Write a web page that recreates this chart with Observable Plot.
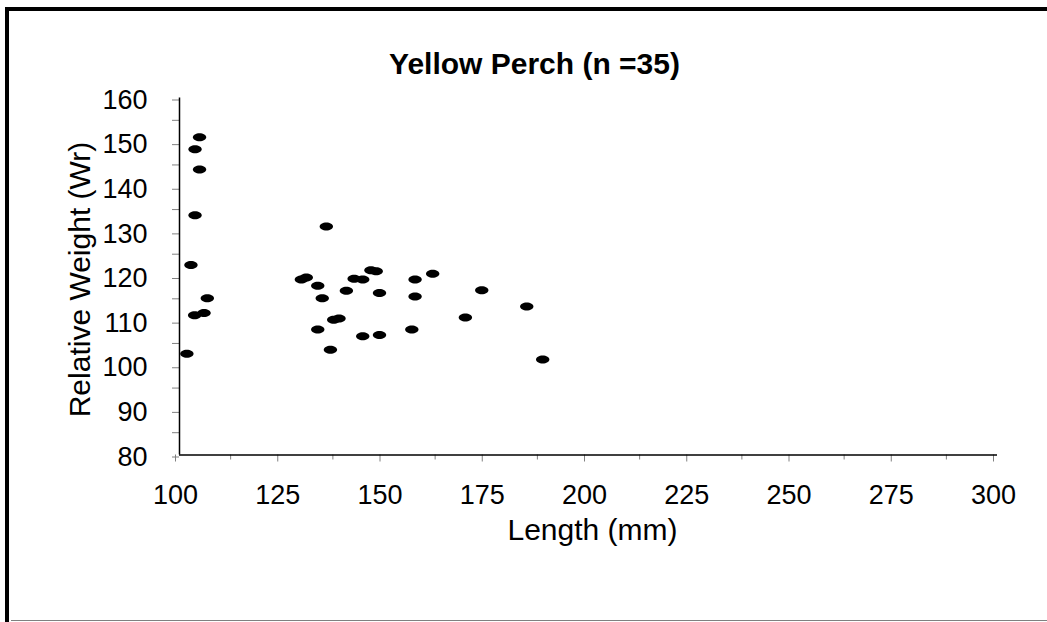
<!DOCTYPE html>
<html>
<head>
<meta charset="utf-8">
<script src="https://cdn.jsdelivr.net/npm/d3@7"></script>
<script src="https://cdn.jsdelivr.net/npm/@observablehq/plot@0.6"></script>
<style>
  html, body { margin: 0; padding: 0; background: #fff; }
  #wrap { position: relative; width: 1047px; height: 622px; overflow: hidden; font-family: "Liberation Sans", Arial, sans-serif; }
  #wrap svg { position: absolute; left: 0; top: 0; }
  .frameL { position: absolute; left: 5px; top: 7px; width: 4px; height: 615px; background: #000; }
  .frameT { position: absolute; left: 5px; top: 7px; width: 1042px; height: 4px; background: #000; }
  .frameB { position: absolute; left: 11px; top: 620px; width: 1036px; height: 1px; background: #808080; }
</style>
</head>
<body>
<div id="wrap"></div>
<script>
const titleText = "Yellow Perch (n =35)";
const xLabel = "Length (mm)";
const yLabel = "Relative Weight (Wr)";

const lengths = [
  104.9, 103.8, 104.9, 103.8, 102.8, 106.8, 103.7, 106.0, 101.8,
  135.9, 129.8, 131.0, 133.8, 134.9, 140.8, 142.7, 144.8, 146.8, 148.1, 148.9,
  157.6, 157.6, 137.7, 139.0, 133.8, 144.8, 148.9, 156.8, 136.9,
  161.9, 173.9, 169.9, 184.9, 188.8
];
const weights = [
  151.2, 148.5, 144.0, 133.7, 122.6, 115.1, 111.3, 111.8, 102.7,
  131.2, 119.3, 119.8, 117.9, 115.1, 116.8, 119.5, 119.3, 121.4, 121.2, 116.3,
  119.3, 115.5, 110.3, 110.6, 108.1, 106.6, 106.9, 108.1, 103.6,
  120.6, 116.9, 110.8, 113.3, 101.4
];

const xMajor = [100, 125, 150, 175, 200, 225, 250, 275, 300];
const xMinor = [112.5, 137.5, 162.5, 187.5, 212.5, 237.5, 262.5, 287.5];
const yMajor = [80, 90, 100, 110, 120, 130, 140, 150, 160];
const yMinor = [85, 95, 105, 115, 125, 135, 145, 155];

const fish = lengths.map((l, i) => ({length: l, wr: weights[i]}));

const RX = 6.7, RY = 4;
const ellipse = {
  draw(ctx) {
    const k = 0.5523;
    ctx.moveTo(RX, 0);
    ctx.bezierCurveTo(RX, k * RY, k * RX, RY, 0, RY);
    ctx.bezierCurveTo(-k * RX, RY, -RX, k * RY, -RX, 0);
    ctx.bezierCurveTo(-RX, -k * RY, -k * RX, -RY, 0, -RY);
    ctx.bezierCurveTo(k * RX, -RY, RX, -k * RY, RX, 0);
    ctx.closePath();
  }
};

const font = '"Liberation Sans", Arial, sans-serif';

const chart = Plot.plot({
  width: 1047,
  height: 622,
  marginLeft: 179,
  marginRight: 50,
  marginTop: 97.5,
  marginBottom: 167.5,
  style: {fontFamily: font, background: "transparent", color: "#000"},
  x: {domain: [100, 300]},
  y: {domain: [80, 160]},
  marks: [
    Plot.axisX({ticks: xMinor, tickSize: 5, text: null, stroke: "#808080", label: null}),
    Plot.axisX({ticks: xMajor, tickSize: 7, tickPadding: 23, stroke: "#808080", fontSize: 27, dx: -4, label: null, fill: "#000"}),
    Plot.axisY({ticks: yMinor, tickSize: 7, text: null, stroke: "#808080", label: null}),
    Plot.axisY({ticks: yMajor, tickSize: 7, tickPadding: 25, stroke: "#808080", fontSize: 27, dy: 2, label: null, fill: "#000"}),
    Plot.ruleX([100], {stroke: "#000", strokeWidth: 1.5}),
    Plot.ruleY([80], {stroke: "#000", strokeWidth: 1.5}),
    Plot.dot(fish, {x: "length", y: "wr", symbol: ellipse, fill: "#000", stroke: "none"}),
    Plot.text([titleText], {frameAnchor: "top", lineAnchor: "top", dx: -54, dy: -45, fontSize: 30, fontWeight: "bold", fill: "#000"}),
    Plot.text([xLabel], {frameAnchor: "bottom", lineAnchor: "top", dx: 4, dy: 63.5, fontSize: 30, fill: "#000"}),
    Plot.text([yLabel], {frameAnchor: "left", textAnchor: "middle", lineAnchor: "middle", rotate: -90, dx: -99, dy: 3, fontSize: 30, fill: "#000"})
  ]
});

const wrap = document.getElementById("wrap");
wrap.appendChild(chart);
for (const c of ["frameL", "frameT", "frameB"]) {
  const d = document.createElement("div");
  d.className = c;
  wrap.appendChild(d);
}
</script>
</body>
</html>
